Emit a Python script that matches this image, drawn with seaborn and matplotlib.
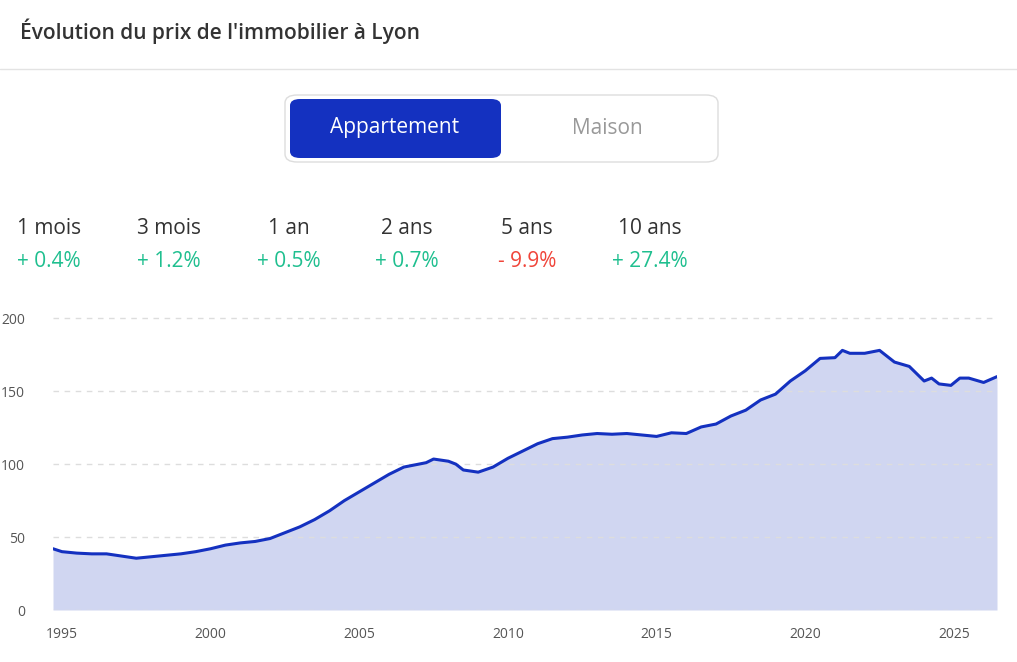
import matplotlib
matplotlib.use('Agg')
import matplotlib.pyplot as plt
import seaborn as sns
from matplotlib.patches import FancyBboxPatch
import pandas as pd

# donnees (indice prix appartements Lyon)
annees = [1994.7, 1995.0, 1995.5, 1996.0, 1996.5, 1997.0, 1997.5, 1998.0, 1998.5, 1999.0,
          1999.5, 2000.0, 2000.5, 2001.0, 2001.5, 2002.0, 2002.5, 2003.0, 2003.5, 2004.0,
          2004.5, 2005.0, 2005.5, 2006.0, 2006.5, 2007.0, 2007.25, 2007.5, 2008.0, 2008.25,
          2008.5, 2009.0, 2009.5, 2010.0, 2010.5, 2011.0, 2011.5, 2012.0, 2012.5, 2013.0,
          2013.5, 2014.0, 2014.5, 2015.0, 2015.5, 2016.0, 2016.5, 2017.0, 2017.5, 2018.0,
          2018.5, 2019.0, 2019.5, 2020.0, 2020.5, 2021.0, 2021.25, 2021.5, 2022.0, 2022.5,
          2023.0, 2023.5, 2024.0, 2024.25, 2024.5, 2024.9, 2025.2, 2025.5, 2026.0, 2026.45]
prix = [42, 40, 39, 38.5, 38.5, 37, 35.5, 36.5, 37.5, 38.5,
        40, 42, 44.5, 46, 47, 49, 53, 57, 62, 68,
        75, 81, 87, 93, 98, 100, 101, 103.5, 102, 100,
        96, 94.5, 98, 104, 109, 114, 117.5, 118.5, 120, 121,
        120.5, 121, 120, 119, 121.5, 121, 125.5, 127.5, 133, 137,
        144, 148, 157, 164, 172.5, 173, 178, 176, 176, 178,
        170, 167, 157, 159, 155, 154, 159, 159, 156, 160]
periodes = ['1 mois', '3 mois', '1 an', '2 ans', '5 ans', '10 ans']
variations = ['+ 0.4%', '+ 1.2%', '+ 0.5%', '+ 0.7%', '- 9.9%', '+ 27.4%']

df = pd.DataFrame({'annee': annees, 'prix': prix})

sns.set_style('white')
plt.rcParams['font.family'] = ['Open Sans', 'DejaVu Sans']

fig = plt.figure(figsize=(10.17, 6.62), dpi=100)

# titre et separateur
fig.text(20 / 1017, 1 - 31 / 662, "Évolution du prix de l'immobilier à Lyon",
         fontsize=15, color='#333333', va='center', fontweight='semibold')
fig.add_artist(plt.Line2D([0, 1], [1 - 69 / 662] * 2, color='#e3e3e3', lw=1))

# bouton bascule
fig.add_artist(FancyBboxPatch((285 / 1017, 1 - 162 / 662), 433 / 1017, 67 / 662,
                              boxstyle='round,pad=0,rounding_size=0.012',
                              fc='white', ec='#dddddd', lw=1, transform=fig.transFigure))
fig.add_artist(FancyBboxPatch((290 / 1017, 1 - 158 / 662), 211 / 1017, 59 / 662,
                              boxstyle='round,pad=0,rounding_size=0.01',
                              fc='#1431c0', ec='none', transform=fig.transFigure))
fig.text(395 / 1017, 1 - 128 / 662, 'Appartement', fontsize=15, color='white', ha='center', va='center')
fig.text(607 / 1017, 1 - 128 / 662, 'Maison', fontsize=15, color='#999999', ha='center', va='center')

# variations
xs = [49, 169, 289, 407, 527, 650]
for x, p, v in zip(xs, periodes, variations):
    fig.text(x / 1017, 1 - 228 / 662, p, fontsize=15, color='#333333', ha='center', va='center')
    col = '#f0453a' if v.startswith('-') else '#1fbf8f'
    fig.text(x / 1017, 1 - 262 / 662, v, fontsize=15, color=col, ha='center', va='center')

# graphique
ax = fig.add_axes([53 / 1017, 1 - 610 / 662, 944 / 1017, 299 / 662])
ax.fill_between(df['annee'], df['prix'], color='#d0d6f1', lw=0, zorder=1)
sns.lineplot(data=df, x='annee', y='prix', ax=ax, color='#1431c0', lw=2.2, zorder=4)
ax.set_xlim(1994.7, 2026.45)
ax.set_ylim(0, 205)
ax.set_yticks([0, 50, 100, 150, 200])
ax.set_xticks([1995, 2000, 2005, 2010, 2015, 2020, 2025])
ax.yaxis.grid(True, ls=(0, (4, 4)), color='#dddddd', lw=1)
ax.set_axisbelow(False)
for s in ax.spines.values():
    s.set_visible(False)
ax.tick_params(colors='#555555', labelsize=10, length=0)
ax.tick_params(axis='y', pad=20)
ax.tick_params(axis='x', pad=12)
ax.set_xlabel('')
ax.set_ylabel('')

fig.savefig('out.png', dpi=100)
